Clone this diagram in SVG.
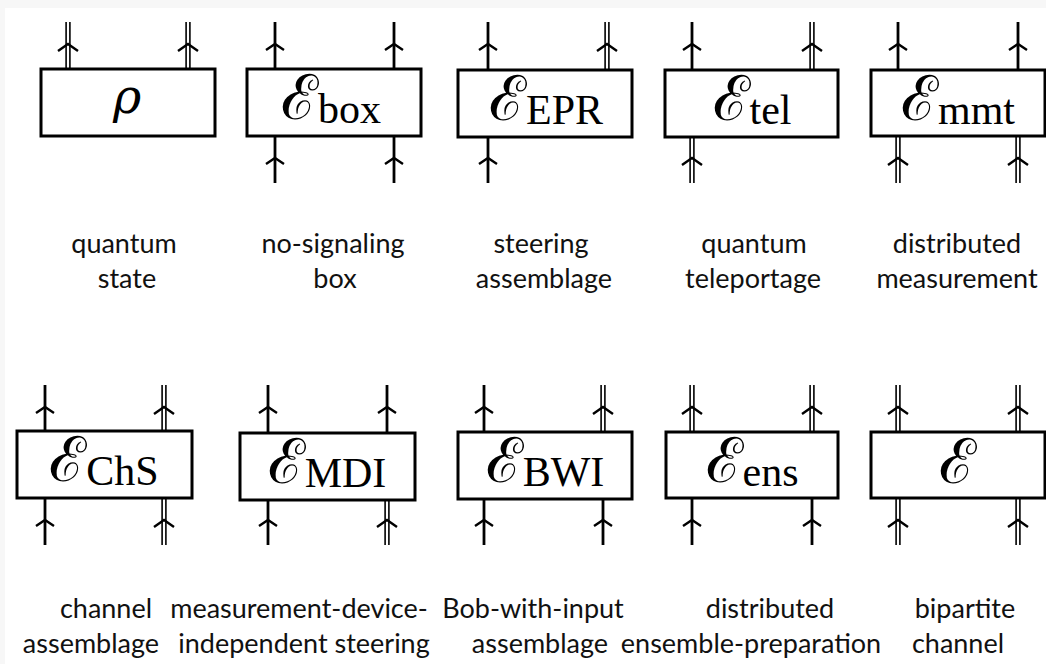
<svg xmlns="http://www.w3.org/2000/svg" xmlns:xlink="http://www.w3.org/1999/xlink" width="1046" height="664" viewBox="0 0 1046 664">
<style>
.box{fill:#fff;stroke:#000;stroke-width:3}
.s{stroke:#000;stroke-width:2.8;fill:none}
.d{stroke:#000;stroke-width:1.6;fill:none}
.ch{fill:none;stroke:#000;stroke-width:2.4;stroke-linejoin:miter}
.lbl{font-family:Lato,"Liberation Sans",sans-serif;font-size:27px;fill:#111;text-anchor:middle}
.mt{text-anchor:middle;fill:#000}
.cal{font-family:"DejaVu Serif",serif;font-size:62px}
.sub{font-family:"Liberation Serif",serif;font-size:42px}
.rho{font-family:"DejaVu Serif",serif;font-size:48px;font-style:italic}
</style>
<defs>
<g id="sw"><line class="s" x1="0" y1="0" x2="0" y2="47"/><polyline class="ch" points="-9,28 0,22 9,28"/></g>
<g id="dw"><line class="d" x1="-1.9" y1="0" x2="-1.9" y2="47"/><line class="d" x1="1.9" y1="0" x2="1.9" y2="47"/><polyline class="ch" points="-10,29 0,22 10,29"/></g>
</defs>
<rect x="0" y="0" width="1046" height="664" fill="#f7f7f7"/>
<rect x="5" y="8" width="1041" height="656" fill="#fff"/>
<g id="connectors">
<use xlink:href="#dw" x="68" y="22"/><use xlink:href="#dw" x="188" y="22"/>
<use xlink:href="#sw" x="275" y="22"/><use xlink:href="#sw" x="394" y="22"/>
<use xlink:href="#sw" x="275" y="136"/><use xlink:href="#sw" x="394" y="136"/>
<use xlink:href="#sw" x="488" y="22"/><use xlink:href="#dw" x="607" y="22"/>
<use xlink:href="#sw" x="488" y="136"/>
<use xlink:href="#sw" x="692" y="22"/><use xlink:href="#dw" x="812" y="22"/>
<use xlink:href="#dw" x="692" y="136"/>
<use xlink:href="#sw" x="898" y="22"/><use xlink:href="#sw" x="1018" y="22"/>
<use xlink:href="#dw" x="898" y="136"/><use xlink:href="#dw" x="1018" y="136"/>
<use xlink:href="#sw" x="45" y="385"/><use xlink:href="#dw" x="164" y="385"/>
<use xlink:href="#sw" x="45" y="498"/><use xlink:href="#dw" x="164" y="498"/>
<use xlink:href="#sw" x="268" y="385"/><use xlink:href="#sw" x="387" y="385"/>
<use xlink:href="#sw" x="268" y="498"/><use xlink:href="#dw" x="387" y="498"/>
<use xlink:href="#sw" x="484" y="385"/><use xlink:href="#dw" x="603" y="385"/>
<use xlink:href="#sw" x="484" y="498"/><use xlink:href="#sw" x="603" y="498"/>
<use xlink:href="#dw" x="692" y="385"/><use xlink:href="#dw" x="812" y="385"/>
<use xlink:href="#sw" x="692" y="498"/><use xlink:href="#sw" x="812" y="498"/>
<use xlink:href="#dw" x="898" y="385"/><use xlink:href="#dw" x="1018" y="385"/>
<use xlink:href="#dw" x="898" y="498"/><use xlink:href="#dw" x="1018" y="498"/>
</g>
<g id="rho">
<rect class="box" x="41" y="69" width="174" height="67"/>
<text class="mt rho" x="127" y="113">ρ</text>
<text class="lbl" x="124" y="253">quantum</text><text class="lbl" x="127" y="288">state</text>
</g>
<g id="Ebox">
<rect class="box" x="247" y="69" width="174" height="67"/>
<text class="mt" x="331" y="119"><tspan class="cal">ℰ</tspan><tspan class="sub" dy="4">box</tspan></text>
<text class="lbl" x="333" y="253">no-signaling</text><text class="lbl" x="335" y="288">box</text>
</g>
<g id="EEPR">
<rect class="box" x="458" y="70" width="174" height="67"/>
<text class="mt" x="546" y="120"><tspan class="cal">ℰ</tspan><tspan class="sub" dy="4">EPR</tspan></text>
<text class="lbl" x="541" y="253">steering</text><text class="lbl" x="544" y="288">assemblage</text>
</g>
<g id="Etel">
<rect class="box" x="665" y="70" width="173" height="67"/>
<text class="mt" x="752" y="120"><tspan class="cal">ℰ</tspan><tspan class="sub" dy="4">tel</tspan></text>
<text class="lbl" x="754" y="253">quantum</text><text class="lbl" x="753" y="288">teleportage</text>
</g>
<g id="Emmt">
<rect class="box" x="871" y="70" width="174" height="66"/>
<text class="mt" x="958" y="120"><tspan class="cal">ℰ</tspan><tspan class="sub" dy="4">mmt</tspan></text>
<text class="lbl" x="957" y="253">distributed</text><text class="lbl" x="957" y="288">measurement</text>
</g>
<g id="EChS">
<rect class="box" x="17" y="431" width="175" height="67"/>
<text class="mt" x="104" y="481"><tspan class="cal">ℰ</tspan><tspan class="sub" dy="4">ChS</tspan></text>
<text class="lbl" x="106" y="618">channel</text><text class="lbl" x="91" y="653">assemblage</text>
</g>
<g id="EMDI">
<rect class="box" x="240" y="433" width="175" height="67"/>
<text class="mt" x="327" y="483"><tspan class="cal">ℰ</tspan><tspan class="sub" dy="4">MDI</tspan></text>
<text class="lbl" x="299" y="618">measurement-device-</text><text class="lbl" x="304" y="653">independent steering</text>
</g>
<g id="EBWI">
<rect class="box" x="458" y="432" width="174" height="67"/>
<text class="mt" x="545" y="482"><tspan class="cal">ℰ</tspan><tspan class="sub" dy="4">BWI</tspan></text>
<text class="lbl" x="533" y="618">Bob-with-input</text><text class="lbl" x="540" y="653">assemblage</text>
</g>
<g id="Eens">
<rect class="box" x="666" y="432" width="172" height="66"/>
<text class="mt" x="752" y="482"><tspan class="cal">ℰ</tspan><tspan class="sub" dy="4">ens</tspan></text>
<text class="lbl" x="770" y="618">distributed</text><text class="lbl" x="751" y="653">ensemble-preparation</text>
</g>
<g id="E">
<rect class="box" x="871" y="432" width="174" height="66"/>
<text class="mt cal" x="957" y="483">ℰ</text>
<text class="lbl" x="965" y="618">bipartite</text><text class="lbl" x="958" y="653">channel</text>
</g>
</svg>
